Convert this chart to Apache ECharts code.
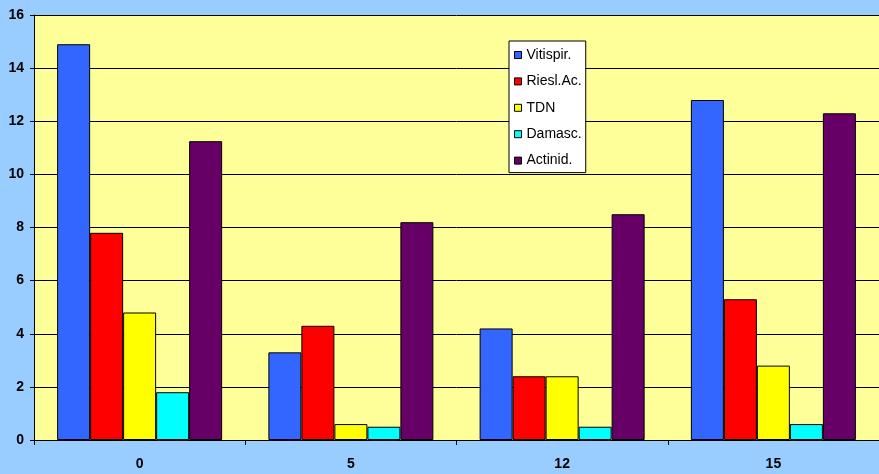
<!DOCTYPE html>
<html>
<head>
<meta charset="utf-8">
<style>
  html, body { margin: 0; padding: 0; background: #99CCFF; }
  #chart { width: 879px; height: 474px; }
</style>
<script src="https://cdn.jsdelivr.net/npm/echarts@6/dist/echarts.min.js"></script>
</head>
<body>
<div id="chart"></div>
<script>
// Sampling times (categories along the x axis)
const categories = ['0', '5', '12', '15'];

// Compound concentrations per sampling time
const vitispir = [14.9, 3.3, 4.2, 12.8];
const rieslAc  = [7.8, 4.3, 2.4, 5.3];
const tdn      = [4.8, 0.6, 2.4, 2.8];
const damasc   = [1.8, 0.5, 0.5, 0.6];
const actinid  = [11.25, 8.2, 8.5, 12.3];

const seriesNames  = ['Vitispir.', 'Riesl.Ac.', 'TDN', 'Damasc.', 'Actinid.'];
const seriesValues = [vitispir, rieslAc, tdn, damasc, actinid];
const seriesColors = ['#3366FF', '#FF0000', '#FFFF00', '#00FFFF', '#660066'];

const chart = echarts.init(document.getElementById('chart'), null, { renderer: 'canvas' });

const font = '"Liberation Sans", Arial, sans-serif';

chart.setOption({
  backgroundColor: '#99CCFF',
  animation: false,
  grid: {
    left: 34,
    top: 15,
    width: 850,
    bottom: 34,
    show: true,
    backgroundColor: '#FFFF99',
    borderWidth: 0
  },
  legend: {
    orient: 'vertical',
    left: 509,
    top: 41,
    padding: [7, 4, 5, 5],
    backgroundColor: '#FFFFFF',
    borderColor: '#000000',
    borderWidth: 1,
    borderRadius: 0,
    itemWidth: 7,
    itemHeight: 7,
    itemGap: 12.4,
    icon: 'rect',
    itemStyle: { borderColor: '#000000', borderWidth: 1 },
    textStyle: {
      fontFamily: font,
      fontSize: 14,
      color: '#000000',
      lineHeight: 14
    },
    data: seriesNames
  },
  xAxis: {
    type: 'category',
    data: categories,
    boundaryGap: true,
    axisLine: { lineStyle: { color: '#000000', width: 1 } },
    axisTick: { show: true, length: 5, alignWithLabel: false, lineStyle: { color: '#000000' } },
    axisLabel: {
      fontFamily: font,
      fontSize: 14,
      fontWeight: 'bold',
      color: '#000000',
      margin: 17
    },
    splitLine: { show: false }
  },
  yAxis: {
    type: 'value',
    min: 0,
    max: 16,
    interval: 2,
    axisLine: { show: true, lineStyle: { color: '#000000', width: 1 } },
    axisTick: { show: true, length: 4, lineStyle: { color: '#000000' } },
    axisLabel: {
      fontFamily: font,
      fontSize: 14,
      fontWeight: 'bold',
      color: '#000000',
      margin: 10
    },
    splitLine: { show: true, lineStyle: { color: '#000000', width: 1 } }
  },
  series: seriesNames.map((name, i) => ({
    name: name,
    type: 'bar',
    data: seriesValues[i],
    barWidth: 33,
    barGap: '0%',
    itemStyle: {
      color: seriesColors[i],
      borderColor: '#000000',
      borderWidth: 1
    },
    emphasis: { disabled: true }
  }))
});
</script>
</body>
</html>
